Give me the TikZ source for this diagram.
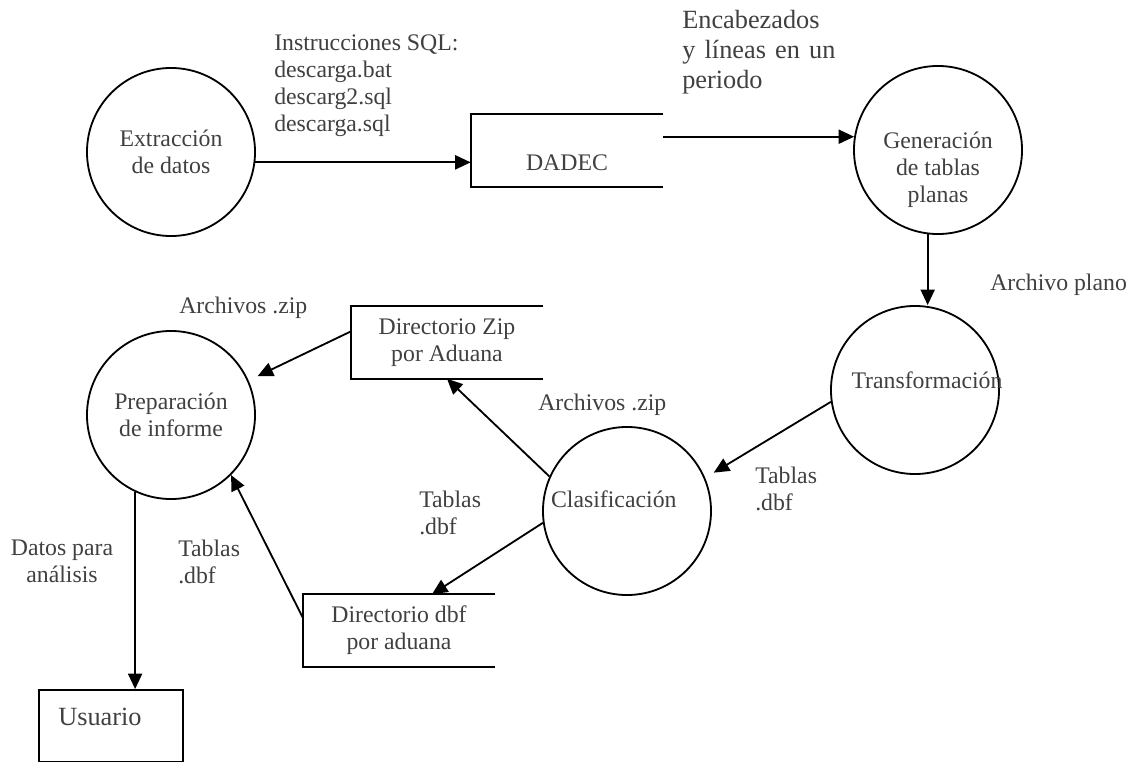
\documentclass[tikz,border=0pt]{standalone}
\usepackage{fontspec}
\setmainfont{Liberation Serif}
\usepackage{tikz}
\usetikzlibrary{arrows.meta,calc}
\definecolor{txtgray}{HTML}{404040}

\begin{document}
\begin{tikzpicture}[x=0.025cm,y=-0.025cm,
  proc/.style={circle,draw,line width=1.3pt,minimum size=4.2cm,inner sep=0pt,align=center,text=txtgray,font=\fontsize{16.9}{19.2}\selectfont},
  ptxt/.style={inner sep=0pt,align=center,text=txtgray,font=\fontsize{16.9}{19.2}\selectfont},
  store/.style={minimum width=4.8cm,minimum height=1.8cm,inner sep=0pt,align=center,text=txtgray,font=\fontsize{16.9}{19.2}\selectfont},
  lbl/.style={anchor=west,align=left,inner sep=0pt,text=txtgray,font=\fontsize{16.9}{19.2}\selectfont},
  flow/.style={-{Triangle[length=11pt,width=10pt]},line width=1.3pt}]
\useasboundingbox (0,0) rectangle (1131,762);
% procesos
\node[proc] (ext) at (171,152) {Extracción\\de datos};
\node[proc,label={[ptxt,yshift=-0.5cm]center:Generación\\de tablas\\planas}] (gen) at (938,150) {};
\node[proc,label={[ptxt,xshift=0.3cm,yshift=0.25cm]center:Transformación}] (tr) at (915,390) {};
\node[proc,label={[ptxt,xshift=-0.33cm,yshift=0.3cm]center:Clasificación}] (cla) at (627,511) {};
\node[proc] (prep) at (171,415) {Preparación\\de informe};
% almacenes
\node[store,text height=28pt] (dadec) at (567,150.5) {DADEC};
\node[store] (zip) at (447,342.5) {Directorio Zip\\por Aduana};
\node[store] (dbf) at (399,630.5) {Directorio dbf\\por aduana};
\foreach \s in {dadec,zip,dbf}
  \draw[line width=1.3pt] (\s.north east) -- (\s.north west) -- (\s.south west) -- (\s.south east);
\node[draw,line width=1.3pt,minimum width=3.6cm,minimum height=1.8cm] (usu) at (111,726) {};
\node[lbl,anchor=center,font=\fontsize{18.7}{21.3}\selectfont] (usutxt) at (100,717) {Usuario};
% flujos
\draw[flow] (ext.-7.5) -- (ext.-7.5 -| dadec.west);
\draw[flow] (gen.171.8 -| dadec.east) -- (gen.171.8);
\draw[flow] (gen.-97.5) -- (gen.-97.5 |- tr.north);
\draw[flow,shorten >=0.25cm] (tr.188.8) -- (cla.23.5);
\draw[flow] (cla.156.2) -- (zip.south);
\draw[flow,shorten >=0.25cm] ($(zip.west)+(0,-11)$) -- (prep.24);
\draw[flow] (cla.188) -- ($(dbf.north)+(33,0)$);
\draw[flow] ($(dbf.west)+(0,-13)$) -- (prep.-45);
\draw[flow] (prep.-115.4) -- (prep.-115.4 |- usu.north);
% etiquetas
\node[lbl] (sql) at (274,86) {Instrucciones SQL:\\descarga.bat\\descarg2.sql\\descarga.sql};
\node[lbl,align=justify,text width=3.83cm,font=\fontsize{18.7}{21.3}\selectfont] (enc) at (682,52) {Encabezados\\ y líneas en un\linebreak periodo};
\node[lbl] (plano) at (990,285) {Archivo plano};
\node[lbl] (tdbf1) at (755,489) {Tablas\\.dbf};
\node[lbl] (zip1) at (538,405) {Archivos .zip};
\node[lbl] (zip2) at (179,308) {Archivos .zip};
\node[lbl] (tdbf2) at (419,513) {Tablas\\.dbf};
\node[lbl] (tdbf3) at (178,561.5) {Tablas\\.dbf};
\node[lbl,anchor=center,align=center] (datos) at (62,561.5) {Datos para\\análisis};
\end{tikzpicture}
\end{document}
